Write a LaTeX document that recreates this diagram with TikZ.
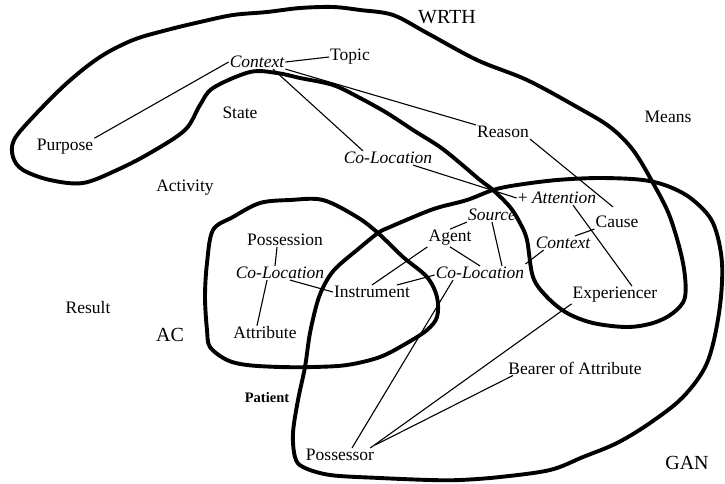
\documentclass[tikz,border=0pt]{standalone}
\usepackage{fontspec}
\setmainfont{Liberation Serif}
\newcommand\rolefont{\fontsize{17.5}{20}\selectfont}
\newcommand\areafont{\fontsize{20}{23}\selectfont}
\begin{document}
\begin{tikzpicture}[
    x=1pt, y=-1pt,
    region/.style={line width=3.9pt, line join=round},
    link/.style={line width=1.1pt},
    role/.style={font=\rolefont, inner sep=1pt},
    feat/.style={font=\rolefont\itshape, inner sep=1pt},
    area/.style={font=\areafont, inner sep=1pt}
]
\useasboundingbox (0,0) rectangle (725,483);

% Regions
\draw[region] plot[smooth cycle, tension=0.55] coordinates {
    (14,140) (33,117) (67,83) (100,57) (133,40) (167,30) (200,22) (233,15)
    (267,12) (300,8) (333,7) (360,10) (393,15) (427,33) (477,60) (527,80)
    (577,107) (610,127) (633,150) (653,183) (670,217) (683,263) (685,297)
    (673,313) (653,323) (627,327) (593,323) (567,313) (547,297) (533,277)
    (527,240) (520,223) (510,207) (493,190) (480,180) (460,163) (440,147)
    (413,130) (387,113) (360,98) (333,85) (300,78) (277,73) (250,72)
    (213,88) (200,105) (185,130) (150,153) (117,170) (83,183) (50,180)
    (23,170) (13,157)};
\draw[region] plot[smooth cycle, tension=0.55] coordinates {
    (378,233) (390,227) (423,213) (440,207) (467,200) (493,190) (517,185)
    (557,180) (600,178) (643,180) (670,187) (693,200) (713,223) (722,263)
    (719,313) (707,363) (683,397) (650,423) (617,443) (583,457) (550,470)
    (500,477) (460,480) (430,480) (380,478) (330,475) (303,467) (295,457)
    (293,433) (298,400) (305,367) (310,333) (318,300) (327,280) (337,267)
    (357,250)};
\draw[region] plot[smooth cycle, tension=0.55] coordinates {
    (290,200) (323,200) (357,217) (378,233) (403,257) (427,277) (437,297)
    (437,317) (427,330) (407,343) (380,357) (347,365) (313,367) (280,367)
    (247,365) (227,360) (210,347) (207,330) (205,297) (207,263) (213,230)
    (233,217) (260,203)};

% Region names
\node[area] (wrth) at (447,17) {WRTH};
\node[area] (ac) at (170,335) {AC};
\node[area] (gan) at (687,463) {GAN};

% Roles
\node[feat] (ctxA) at (257,62) {Context};
\node[role] (topic) at (350,57) {Topic};
\node[role] (state) at (240,113) {State};
\node[role] (purpose) at (65,147) {Purpose};
\node[role] (reason) at (503,132) {Reason};
\node[role] (means) at (668,117) {Means};
\node[feat] (colocU) at (388,158) {Co-Location};
\node[role] (activity) at (185,188) {Activity};
\node[role] (att) at (557,198) {+ \textit{Attention}};
\node[feat] (source) at (492,215) {Source};
\node[role] (cause) at (617,222) {Cause};
\node[role] (agent) at (450,238) {Agent};
\node[feat] (ctxB) at (563,243) {Context};
\node[role] (poss) at (285,240) {Possession};
\node[feat] (colocA) at (280,273) {Co-Location};
\node[role] (instr) at (372,292) {Instrument};
\node[feat] (colocB) at (480,273) {Co-Location};
\node[role] (exp) at (615,295) {Experiencer};
\node[role] (result) at (88,308) {Result};
\node[role] (attr) at (265,333) {Attribute};
\node[role] (bearer) at (575,368) {Bearer of Attribute};
\node[role, font=\fontsize{14.5}{16}\selectfont\bfseries] (patient) at (267,398) {Patient};
\node[role] (possr) at (340,455) {Possessor};

% Links
\draw[link] (ctxA.east) -- (topic.west);
\draw[link] (ctxA.west) -- (purpose.north east);
\draw[link] (ctxA.south east) -- (reason.north west);
\draw[link] ([xshift=16pt]ctxA.south) -- ([xshift=-25pt]colocU.north);
\draw[link] ([xshift=25pt]colocU.south) -- (att.west);
\draw[link] (reason.south east) -- ([xshift=-4pt,yshift=8pt]cause.north);
\draw[link] ([xshift=16pt]att.south) -- ([xshift=17pt]exp.north);
\draw[link] (cause.south west) -- ([xshift=12pt]ctxB.north);
\draw[link] ([xshift=9pt]ctxB.south west) -- ([yshift=9pt]colocB.east);
\draw[link] (source.south west) -- (agent.north);
\draw[link] (source.south) -- ([xshift=22pt]colocB.north);
\draw[link] (agent.south) -- (colocB.north);
\draw[link] (agent.south west) -- (instr.north);
\draw[link] ([xshift=25pt]instr.north) -- ([yshift=-2pt]colocB.west);
\draw[link] ([xshift=10pt]colocA.south) -- (instr.west);
\draw[link] ([xshift=-8pt]poss.south) -- ([xshift=-5pt]colocA.north);
\draw[link] ([xshift=-13pt]colocA.south) -- ([xshift=-8pt]attr.north);
\draw[link] ([xshift=-27pt]colocB.south) -- ([xshift=12pt]possr.north);
\draw[link] (exp.south west) -- ([xshift=-5pt]possr.north east);
\draw[link] ([xshift=-62pt]bearer.south) -- ([yshift=10pt]possr.east);

\end{tikzpicture}
\end{document}
